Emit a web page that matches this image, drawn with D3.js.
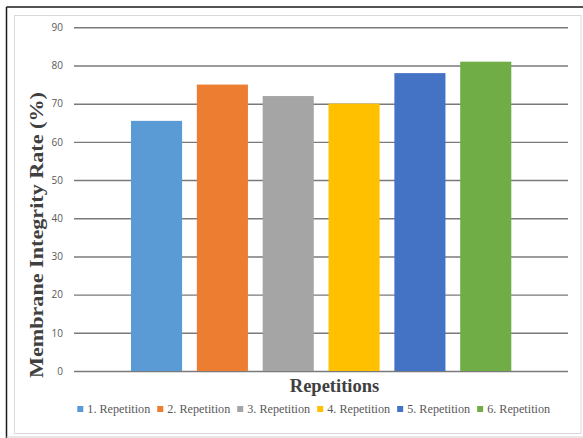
<!DOCTYPE html>
<html>
<head>
<meta charset="utf-8">
<script src="https://cdn.jsdelivr.net/npm/d3@7"></script>
<style>
  html, body { margin: 0; padding: 0; background: #fff; }
  svg { display: block; }
</style>
</head>
<body>
<svg id="chart" width="583" height="438"></svg>
<script>
// Membrane integrity rate per repetition
const series = ["1. Repetition", "2. Repetition", "3. Repetition", "4. Repetition", "5. Repetition", "6. Repetition"];
const values = [65.5, 75, 72, 70, 78, 81];
const colors = ["#5B9BD5", "#ED7D31", "#A5A5A5", "#FFC000", "#4472C4", "#70AD47"];
const yTicks = [0, 10, 20, 30, 40, 50, 60, 70, 80, 90];

const svg = d3.select("#chart");
const W = 583, H = 438;
const plot = { left: 74, right: 568, top: 27.3, bottom: 371 };
const serif = "'Liberation Serif', 'Times New Roman', serif";

// frame: dark edge on left/top, light chart-area border inside
svg.append("rect").attr("x", 0).attr("y", 0).attr("width", W).attr("height", H).attr("fill", "#fff");
svg.append("line").attr("x1", 6.5).attr("x2", 6.5).attr("y1", 7).attr("y2", H).attr("stroke", "#1a1a1a").attr("stroke-width", 1.5);
svg.append("line").attr("x1", 6.5).attr("x2", W).attr("y1", 7).attr("y2", 7).attr("stroke", "#1a1a1a").attr("stroke-width", 1.5);
svg.append("line").attr("x1", 6.5).attr("x2", W).attr("y1", 437).attr("y2", 437).attr("stroke", "#cfcfcf").attr("stroke-width", 1);
svg.append("rect").attr("x", 14.5).attr("y", 15.5).attr("width", 566.5).attr("height", 418)
  .attr("fill", "none").attr("stroke", "#d9d9d9").attr("stroke-width", 1);

const y = d3.scaleLinear().domain([0, 90]).range([plot.bottom, plot.top]);

// single category: the series sit side by side in the middle of the plot
const x = d3.scaleBand().domain(series)
  .range([plot.left + 57, plot.right - 56.7])
  .paddingInner(0.224).paddingOuter(0);

// gridlines and tick labels
const yAxis = d3.axisLeft(y).tickValues(yTicks).tickSize(-(plot.right - plot.left)).tickPadding(11);
const ga = svg.append("g").attr("transform", `translate(${plot.left},0)`).call(yAxis);
ga.select(".domain").remove();
ga.selectAll(".tick line").attr("stroke", "#7a7a7a").attr("stroke-width", 1.4);
ga.selectAll(".tick text")
  .attr("fill", "#595959")
  .style("font-family", "'Open Sans', 'Liberation Sans', sans-serif")
  .style("font-size", "10px");

// bars
svg.append("g").selectAll("rect").data(series).join("rect")
  .attr("x", d => x(d))
  .attr("width", x.bandwidth())
  .attr("y", (d, i) => y(values[i]))
  .attr("height", (d, i) => y(0) - y(values[i]))
  .attr("fill", (d, i) => colors[i]);

// axis titles
svg.append("text")
  .attr("transform", "translate(43,235) rotate(-90)")
  .attr("text-anchor", "middle")
  .attr("textLength", 286)
  .attr("lengthAdjust", "spacingAndGlyphs")
  .attr("fill", "#404040")
  .style("font-family", serif)
  .style("font-weight", "bold")
  .style("font-size", "19px")
  .text("Membrane Integrity Rate (%)");

svg.append("text")
  .attr("x", 334.5).attr("y", 392)
  .attr("text-anchor", "middle")
  .attr("fill", "#404040")
  .style("font-family", serif)
  .style("font-weight", "bold")
  .style("font-size", "18.5px")
  .text("Repetitions");

// legend
const legend = svg.append("g");
const items = legend.selectAll("g").data(series).join("g");
items.append("rect").attr("width", 6).attr("height", 6).attr("y", 406).attr("fill", (d, i) => colors[i]);
items.append("text")
  .attr("x", 10).attr("y", 413)
  .attr("fill", "#595959")
  .style("font-family", serif)
  .style("font-size", "12.2px")
  .text(d => d);
let cx = 0;
const offsets = [];
items.each(function() {
  offsets.push(cx);
  const w = d3.select(this).select("text").node().getComputedTextLength();
  cx += 10 + w + 7;
});
const total = cx - 7;
const start = 313.7 - total / 2;
items.attr("transform", (d, i) => `translate(${start + offsets[i]},0)`);
</script>
</body>
</html>
